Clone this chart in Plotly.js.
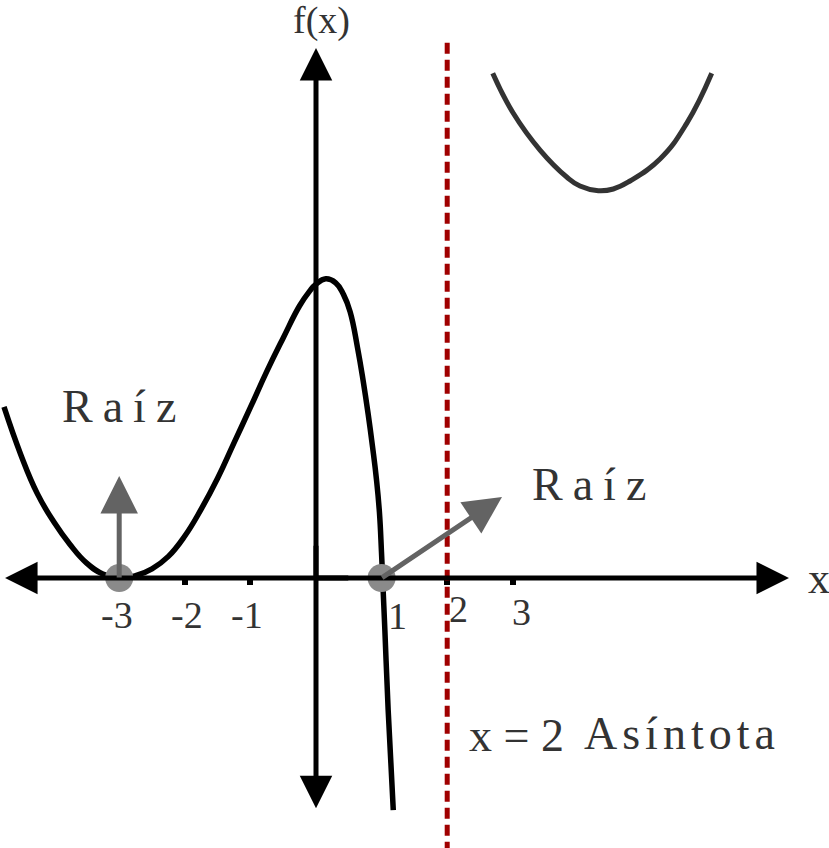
<!DOCTYPE html>
<html>
<head>
<meta charset="utf-8">
<script src="https://cdn.plot.ly/plotly-3.0.1.min.js"></script>
<style>html,body{margin:0;padding:0;background:#fff;}</style>
</head>
<body>
<div id="chart" style="width:829px;height:848px;"></div>
<script>
// ---- data ----
const curveX = [-4.756, -4.5, -4.25, -4.0, -3.75, -3.5, -3.25, -3.0, -2.75, -2.5, -2.25, -2.0, -1.75, -1.5, -1.25, -1.0, -0.75, -0.5, -0.25, -0.1, 0.0, 0.15, 0.30, 0.42, 0.52, 0.635, 0.72, 0.795, 0.862, 0.922, 0.967, 0.998, 1.022, 1.05, 1.10, 1.178];
const curveY = [2.607, 1.88, 1.29, 0.86, 0.51, 0.23, 0.06, 0.0, 0.035, 0.14, 0.33, 0.64, 1.05, 1.52, 2.06, 2.60, 3.15, 3.66, 4.15, 4.37, 4.48, 4.56, 4.50, 4.32, 4.06, 3.5, 3.0, 2.5, 2.0, 1.5, 1.0, 0.40, -0.15, -0.80, -2.01, -3.537];
const branchX = [2.694, 3.008, 3.415, 3.822, 4.024, 4.303, 4.532, 4.787, 5.244, 5.651, 6.032];
const branchY = [7.694, 7.084, 6.524, 6.113, 5.976, 5.904, 5.930, 6.052, 6.387, 6.931, 7.694];
const rootX = [-3, 1];
const rootY = [0, 0];
const rootArrowTipX = [-3, 2.835];
const rootArrowTipY = [1.555, 1.235];
const tickVals = [-3, -2, -1, 1, 2, 3];
const tickText = ['-3', '-2', '-1', '1', '2', '3'];
const asymptoteX = 2;
const xAxisEnds = [-4.74, 7.21];
const yAxisEnds = [-3.51, 8.08];
const rootLabel = 'Raíz';
const asymptoteEq = 'x = 2';
const asymptoteLabel = 'Asíntota';
const yAxisLabel = 'f(x)';
const xAxisLabel = 'x';

// ---- layout / style ----
const W = 829, H = 848;
const unit = 65.6, originPx = 316, originPy = 578;
const xRange = [-originPx / unit, (W - originPx) / unit];
const yRange = [(originPy - H) / unit, originPy / unit];
const FONT = 'Liberation Serif, DejaVu Serif, serif';
const TXT = '#333333';

const tickShiftX = [-2, 2, -3, 16, 11, 9];
const tickShiftY = [-37, -37, -37, -38, -31, -34];

const traces = [
  {x: curveX, y: curveY, mode: 'lines', line: {color: '#000', width: 5.5, shape: 'spline', smoothing: 1.3}, hoverinfo: 'skip'},
  {x: branchX, y: branchY, mode: 'lines', line: {color: '#333', width: 5, shape: 'spline', smoothing: 1.3}, hoverinfo: 'skip'},
  {x: rootX, y: rootY, mode: 'markers', marker: {color: '#8a8a8a', size: 28}, hoverinfo: 'skip'}
];

const ann = [];
// axes with arrowheads (each half drawn from the middle outwards)
const axisArrow = {xref: 'x', yref: 'y', axref: 'x', ayref: 'y', text: '', showarrow: true,
  arrowhead: 2, arrowsize: 1.3, arrowwidth: 5, arrowcolor: '#000', font: {size: 1}, borderpad: 0, standoff: 0};
ann.push(Object.assign({}, axisArrow, {x: xAxisEnds[1], y: 0, ax: 0, ay: 0}));
ann.push(Object.assign({}, axisArrow, {x: xAxisEnds[0], y: 0, ax: 0.5, ay: 0}));
ann.push(Object.assign({}, axisArrow, {x: 0, y: yAxisEnds[1], ax: 0, ay: 0}));
ann.push(Object.assign({}, axisArrow, {x: 0, y: yAxisEnds[0], ax: 0, ay: 0.5}));
// root arrows
rootX.forEach((rx, i) => {
  ann.push({xref: 'x', yref: 'y', axref: 'x', ayref: 'y', x: rootArrowTipX[i], y: rootArrowTipY[i],
    ax: rx, ay: rootY[i], text: '', showarrow: true, arrowhead: 2, arrowsize: 1.5, arrowwidth: 5,
    arrowcolor: '#636363', font: {size: 1}, borderpad: 0, standoff: 0});
});
// tick labels
tickVals.forEach((v, i) => {
  ann.push({xref: 'x', yref: 'y', x: v, y: 0, xshift: tickShiftX[i], yshift: tickShiftY[i],
    text: tickText[i], showarrow: false, font: {family: FONT, size: 38, color: TXT}});
});
// axis labels
ann.push({xref: 'x', yref: 'y', x: 0.09, y: 8.50, text: yAxisLabel, showarrow: false,
  font: {family: FONT, size: 38, color: TXT}});
ann.push({xref: 'x', yref: 'y', x: 7.67, y: 0, text: xAxisLabel, showarrow: false,
  font: {family: FONT, size: 44, color: TXT}});
// root labels
ann.push({xref: 'x', yref: 'y', x: -3.90, y: 2.61, xanchor: 'left', showarrow: false,
  text: '<span style="letter-spacing:10px">' + rootLabel + '</span>', font: {family: FONT, size: 46, color: TXT}});
ann.push({xref: 'x', yref: 'y', x: 3.26, y: 1.42, xanchor: 'left', showarrow: false,
  text: '<span style="letter-spacing:10px">' + rootLabel + '</span>', font: {family: FONT, size: 46, color: TXT}});
// asymptote labels
ann.push({xref: 'x', yref: 'y', x: 2.30, y: -2.40, xanchor: 'left', showarrow: false,
  text: asymptoteEq, font: {family: FONT, size: 46, color: TXT}});
ann.push({xref: 'x', yref: 'y', x: 4.06, y: -2.37, xanchor: 'left', showarrow: false,
  text: '<span style="letter-spacing:5px">' + asymptoteLabel + '</span>', font: {family: FONT, size: 46, color: TXT}});

const layout = {
  width: W, height: H, autosize: false,
  margin: {l: 0, r: 0, t: 0, b: 0, pad: 0},
  paper_bgcolor: '#fff', plot_bgcolor: '#fff',
  showlegend: false,
  xaxis: {range: xRange, showgrid: false, zeroline: false, showline: false, showticklabels: false,
    ticks: 'outside', tickvals: tickVals, ticklen: 6, tickwidth: 6, tickcolor: '#000',
    anchor: 'free', position: (H - originPy) / H, layer: 'below traces', fixedrange: true},
  yaxis: {range: yRange, visible: false, fixedrange: true},
  shapes: [{type: 'line', xref: 'x', yref: 'y', x0: asymptoteX, x1: asymptoteX, y0: 8.16, y1: yRange[0] - 0.5,
    line: {color: '#a00000', width: 5, dash: '11px,6px'}, layer: 'above'}],
  annotations: ann
};

Plotly.newPlot('chart', traces, layout, {staticPlot: true, displayModeBar: false});
</script>
</body>
</html>
